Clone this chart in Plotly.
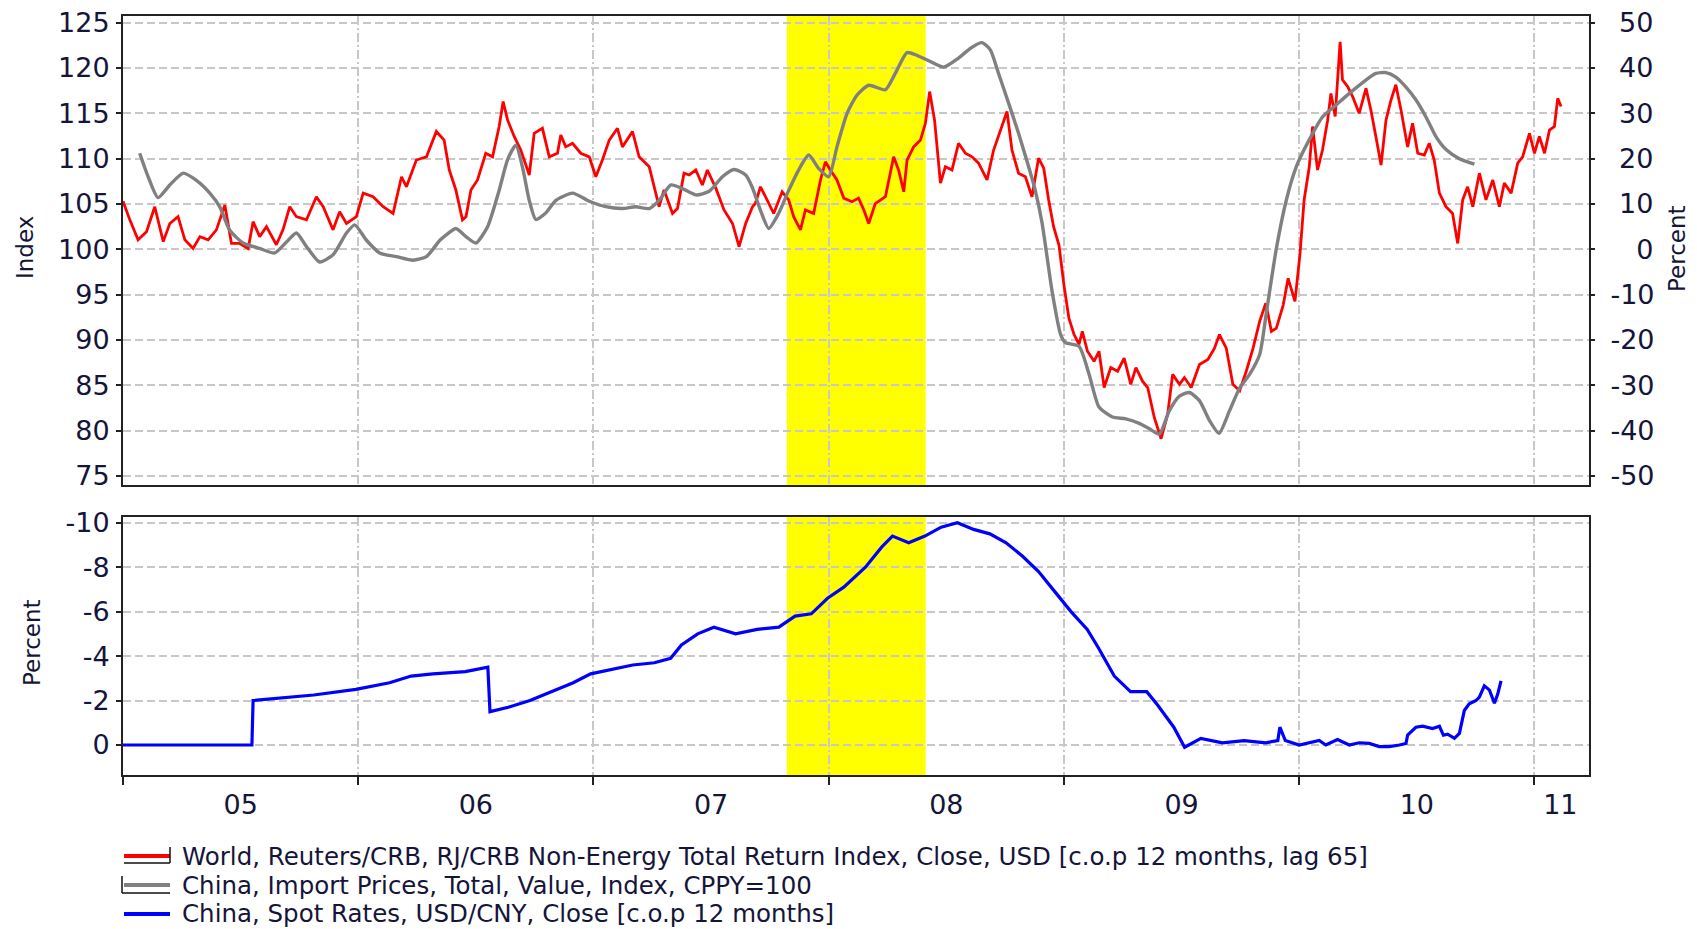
import plotly.graph_objects as go

# ---------------- data (decimal years) ----------------
red_t = [2005.000, 2005.029, 2005.064, 2005.100, 2005.135, 2005.171, 2005.199, 2005.234, 2005.263, 2005.298,
         2005.327, 2005.362, 2005.397, 2005.433, 2005.461, 2005.496, 2005.532, 2005.553, 2005.581, 2005.610,
         2005.652, 2005.680, 2005.709, 2005.737, 2005.780, 2005.822, 2005.851, 2005.893, 2005.921, 2005.950,
         2005.992, 2006.021, 2006.063, 2006.106, 2006.148, 2006.184, 2006.205, 2006.247, 2006.290, 2006.332,
         2006.365, 2006.387, 2006.415, 2006.443, 2006.458, 2006.479, 2006.507, 2006.542, 2006.571, 2006.599,
         2006.616, 2006.635, 2006.663, 2006.691, 2006.727, 2006.748, 2006.783, 2006.812, 2006.847, 2006.861,
         2006.882, 2006.911, 2006.946, 2006.982, 2007.010, 2007.038, 2007.067, 2007.102, 2007.123, 2007.166,
         2007.194, 2007.237, 2007.258, 2007.279, 2007.300, 2007.336, 2007.357, 2007.385, 2007.407, 2007.435,
         2007.463, 2007.484, 2007.520, 2007.555, 2007.591, 2007.619, 2007.647, 2007.676, 2007.688, 2007.710,
         2007.738, 2007.766, 2007.802, 2007.830, 2007.851, 2007.880, 2007.901, 2007.936, 2007.965, 2007.986,
         2008.007, 2008.035, 2008.064, 2008.099, 2008.127, 2008.149, 2008.170, 2008.198, 2008.241, 2008.276,
         2008.297, 2008.319, 2008.333, 2008.361, 2008.390, 2008.411, 2008.429, 2008.450, 2008.475, 2008.496,
         2008.524, 2008.552, 2008.581, 2008.609, 2008.637, 2008.673, 2008.701, 2008.729, 2008.758, 2008.779,
         2008.807, 2008.836, 2008.864, 2008.892, 2008.914, 2008.935, 2008.956, 2008.979, 2009.000, 2009.021,
         2009.043, 2009.064, 2009.078, 2009.100, 2009.128, 2009.149, 2009.171, 2009.199, 2009.228, 2009.256,
         2009.284, 2009.306, 2009.334, 2009.356, 2009.384, 2009.413, 2009.441, 2009.462, 2009.491, 2009.512,
         2009.541, 2009.576, 2009.612, 2009.640, 2009.661, 2009.690, 2009.718, 2009.747, 2009.775, 2009.804,
         2009.832, 2009.858, 2009.882, 2009.903, 2009.932, 2009.953, 2009.982, 2010.003, 2010.021, 2010.043,
         2010.057, 2010.078, 2010.099, 2010.121, 2010.135, 2010.153, 2010.174, 2010.184, 2010.206, 2010.227,
         2010.255, 2010.284, 2010.305, 2010.326, 2010.348, 2010.369, 2010.390, 2010.411, 2010.433, 2010.461,
         2010.482, 2010.504, 2010.532, 2010.553, 2010.574, 2010.596, 2010.624, 2010.652, 2010.674, 2010.695,
         2010.716, 2010.738, 2010.766, 2010.794, 2010.823, 2010.851, 2010.872, 2010.901, 2010.929, 2010.950,
         2010.979, 2011.000, 2011.021, 2011.043, 2011.064, 2011.085, 2011.099, 2011.113]
red_pct = [10.6, 6.5, 2.1, 3.9, 9.4, 1.7, 5.7, 7.2, 2.1, 0.2,
           2.8, 2.1, 4.3, 9.8, 1.3, 1.3, 0.2, 6.1, 2.8, 5.0,
           1.0, 4.3, 9.4, 7.2, 6.5, 11.6, 9.4, 4.3, 8.3, 5.7,
           7.2, 12.4, 11.6, 9.4, 7.9, 16.0, 13.8, 19.7, 20.4, 26.0,
           24.1, 17.5, 13.1, 6.5, 7.2, 13.1, 15.3, 21.2, 20.4, 27.1,
           32.6, 28.5, 24.9, 21.9, 16.4, 25.6, 26.7, 20.4, 21.2, 25.2,
           22.6, 23.4, 21.2, 20.4, 16.0, 19.7, 24.1, 26.7, 22.6, 26.0,
           20.4, 18.2, 13.8, 9.4, 13.1, 7.9, 9.0, 16.8, 16.4, 17.5,
           14.2, 17.5, 13.5, 8.7, 5.7, 0.6, 5.7, 9.4, 10.1, 13.8,
           10.9, 7.9, 12.7, 10.9, 7.2, 4.3, 8.7, 7.9, 15.3, 19.3,
           17.5, 15.3, 11.3, 10.5, 11.3, 8.7, 5.7, 10.1, 11.6, 20.4,
           17.5, 12.7, 19.7, 22.6, 24.1, 27.8, 34.8, 28.5, 14.6, 18.2,
           17.5, 23.4, 21.2, 20.4, 19.0, 15.3, 21.9, 26.3, 30.4, 21.9,
           16.8, 16.0, 11.6, 20.1, 17.9, 10.9, 5.0, 0.9, -7.9, -15.2,
           -18.8, -21.0, -18.1, -22.5, -24.7, -22.5, -30.5, -26.1, -26.9, -24.0,
           -29.8, -26.1, -29.1, -30.5, -37.1, -41.8, -36.4, -27.6, -29.8, -28.3,
           -30.5, -25.4, -24.3, -21.8, -18.8, -21.8, -29.8, -31.2, -26.9, -21.8,
           -15.9, -11.9, -18.1, -17.4, -12.3, -6.4, -11.5, -1.3, 10.9, 18.2,
           27.1, 17.5, 21.9, 28.5, 34.4, 29.3, 45.8, 37.4, 35.9, 33.7,
           30.0, 35.5, 30.7, 24.9, 18.6, 28.5, 32.9, 36.3, 30.7, 22.6,
           27.8, 21.2, 20.8, 23.4, 19.7, 12.4, 9.4, 7.9, 1.3, 10.9,
           13.8, 9.4, 16.8, 10.9, 15.3, 9.4, 14.6, 12.4, 19.0, 20.4,
           25.6, 21.2, 24.9, 21.2, 26.3, 27.1, 33.3, 31.5]

gray_t = [2005.071, 2005.107, 2005.149, 2005.199, 2005.256, 2005.312, 2005.369, 2005.411, 2005.454, 2005.510,
          2005.581, 2005.645, 2005.695, 2005.737, 2005.780, 2005.836, 2005.893, 2005.950, 2005.985, 2006.035,
          2006.091, 2006.162, 2006.233, 2006.290, 2006.347, 2006.365, 2006.415, 2006.458, 2006.500, 2006.550,
          2006.599, 2006.635, 2006.670, 2006.698, 2006.727, 2006.755, 2006.797, 2006.840, 2006.911, 2006.982,
          2007.052, 2007.123, 2007.180, 2007.237, 2007.279, 2007.329, 2007.378, 2007.435, 2007.492, 2007.548,
          2007.598, 2007.647, 2007.674, 2007.710, 2007.745, 2007.788, 2007.830, 2007.873, 2007.915, 2007.958,
          2008.000, 2008.035, 2008.078, 2008.120, 2008.170, 2008.241, 2008.283, 2008.333, 2008.375, 2008.425,
          2008.489, 2008.552, 2008.609, 2008.652, 2008.687, 2008.722, 2008.765, 2008.807, 2008.850, 2008.878,
          2008.907, 2008.950, 2008.986, 2009.007, 2009.064, 2009.107, 2009.149, 2009.206, 2009.263, 2009.320,
          2009.363, 2009.405, 2009.448, 2009.491, 2009.533, 2009.576, 2009.619, 2009.659, 2009.704, 2009.747,
          2009.789, 2009.832, 2009.861, 2009.903, 2009.946, 2009.989, 2010.043, 2010.099, 2010.156, 2010.213,
          2010.270, 2010.326, 2010.369, 2010.411, 2010.454, 2010.496, 2010.539, 2010.582, 2010.624, 2010.681,
          2010.745]
gray_idx = [110.6, 108.0, 105.7, 107.1, 108.4, 107.6, 106.2, 104.7, 102.1, 100.7,
            100.1, 99.6, 100.8, 101.8, 100.3, 98.6, 99.4, 101.8, 102.7, 101.0,
            99.6, 99.2, 98.8, 99.2, 101.0, 101.4, 102.3, 101.4, 100.7, 102.5,
            106.5, 109.9, 111.5, 109.1, 105.4, 103.3, 104.0, 105.4, 106.2, 105.3,
            104.7, 104.5, 104.7, 104.5, 105.4, 107.1, 106.7, 106.0, 106.4, 108.0,
            108.8, 108.2, 106.9, 104.3, 102.3, 104.0, 106.5, 108.8, 110.4, 108.9,
            108.0, 111.3, 115.0, 117.0, 118.1, 117.6, 119.4, 121.7, 121.4, 120.8,
            120.1, 121.1, 122.3, 122.8, 122.0, 119.4, 116.1, 112.8, 109.1, 106.5,
            102.9, 95.3, 90.6, 89.7, 89.3, 86.2, 82.6, 81.5, 81.3, 80.8,
            80.2, 79.6, 82.2, 83.8, 84.2, 83.3, 81.1, 79.7, 82.2, 84.7,
            86.2, 88.4, 93.1, 100.1, 105.5, 109.2, 112.1, 114.6, 115.9, 117.2,
            118.4, 119.4, 119.5, 119.0, 117.9, 116.5, 114.6, 112.4, 111.0, 110.0,
            109.4]

blue_t = [2005.000, 2005.548, 2005.553, 2005.673, 2005.811, 2005.990, 2006.133, 2006.225, 2006.317, 2006.455,
          2006.551, 2006.560, 2006.638, 2006.730, 2006.822, 2006.914, 2006.988, 2007.075, 2007.167, 2007.259,
          2007.328, 2007.374, 2007.443, 2007.512, 2007.604, 2007.696, 2007.788, 2007.857, 2007.926, 2007.995,
          2008.064, 2008.156, 2008.225, 2008.271, 2008.340, 2008.409, 2008.478, 2008.547, 2008.616, 2008.685,
          2008.754, 2008.823, 2008.892, 2008.961, 2009.030, 2009.099, 2009.145, 2009.214, 2009.283, 2009.352,
          2009.398, 2009.467, 2009.513, 2009.582, 2009.674, 2009.766, 2009.858, 2009.909, 2009.918, 2009.941,
          2010.000, 2010.085, 2010.113, 2010.163, 2010.213, 2010.255, 2010.298, 2010.340, 2010.383, 2010.426,
          2010.454, 2010.461, 2010.496, 2010.525, 2010.567, 2010.596, 2010.613, 2010.631, 2010.660, 2010.681,
          2010.702, 2010.723, 2010.752, 2010.766, 2010.787, 2010.809, 2010.830, 2010.844, 2010.858]
blue_pct = [0.0, 0.0, -2.0, -2.1, -2.25, -2.5, -2.8, -3.1, -3.2, -3.3,
            -3.5, -1.5, -1.7, -2.0, -2.4, -2.8, -3.2, -3.4, -3.6, -3.7,
            -3.9, -4.5, -5.0, -5.3, -5.0, -5.2, -5.3, -5.8, -5.9, -6.6,
            -7.1, -8.0, -8.9, -9.4, -9.1, -9.4, -9.8, -10.0, -9.7, -9.5,
            -9.1, -8.5, -7.8, -6.9, -6.0, -5.2, -4.4, -3.1, -2.4, -2.4,
            -1.8, -0.8, 0.1, -0.3, -0.1, -0.2, -0.1, -0.2, -0.8, -0.2,
            0.0, -0.2, 0.0, -0.25, 0.0, -0.1, -0.07, 0.07, 0.07, 0.0,
            -0.07, -0.45, -0.8, -0.85, -0.74, -0.84, -0.44, -0.49, -0.3, -0.52,
            -1.55, -1.85, -2.0, -2.15, -2.66, -2.47, -1.88, -2.29, -2.88]

band_start = 2007.822
band_end = 2008.412
year_bounds = [2005, 2006, 2007, 2008, 2009, 2010, 2011]
year_label_pos = [2005.5, 2006.5, 2007.5, 2008.5, 2009.5, 2010.5, 2011.11]
year_labels = ["05", "06", "07", "08", "09", "10", "11"]
index_ticks = [75, 80, 85, 90, 95, 100, 105, 110, 115, 120, 125]
pct_ticks = [-50, -40, -30, -20, -10, 0, 10, 20, 30, 40, 50]
spot_ticks = [0, -2, -4, -6, -8, -10]
legend_names = ["World, Reuters/CRB, RJ/CRB Non-Energy Total Return Index, Close, USD [c.o.p 12 months, lag 65]",
                "China, Import Prices, Total, Value, Index, CPPY=100",
                "China, Spot Rates, USD/CNY, Close [c.o.p 12 months]"]
legend_colors = ["#ff0000", "#808080", "#0000ff"]

# ---------------- styling ----------------
FONT = "DejaVu Sans"
TXT = "#15153a"
GRID = "#c8c8c8"
AXL = "#222222"
HDASH = "8px,4px"
VDASH = "9px,3px,2px,3px"
X_RANGE = [2005.0, 2011.232]
OFF = 8  # page body margin


def pad_right(label):
    # right-align labels of the right-hand axis
    w = {"-": 0.361}
    width = sum(w.get(c, 0.636) for c in label)
    target = 1.633
    pad = ""
    while target - width > 0.5:
        pad += "\u2007"
        width += 0.636
    if target - width > 0.15:
        pad += "\u2008"
    return pad + label


fig = go.Figure()

fig.add_trace(go.Scatter(x=red_t, y=red_pct, mode="lines", name=legend_names[0],
                         line=dict(color=legend_colors[0], width=2.8), xaxis="x", yaxis="y",
                         showlegend=False))
fig.add_trace(go.Scatter(x=gray_t, y=gray_idx, mode="lines", name=legend_names[1],
                         line=dict(color=legend_colors[1], width=3.4, shape="spline", smoothing=0.6),
                         xaxis="x", yaxis="y2", showlegend=False))
fig.add_trace(go.Scatter(x=blue_t, y=blue_pct, mode="lines", name=legend_names[2],
                         line=dict(color=legend_colors[2], width=3.2), xaxis="x2", yaxis="y3",
                         showlegend=False))

tickfont = dict(family=FONT, size=27, color=TXT)

fig.update_layout(
    width=1697 - OFF, height=929 - OFF,
    margin=dict(l=123 - OFF, r=108, t=16 - OFF, b=154, autoexpand=False),
    paper_bgcolor="white", plot_bgcolor="white",
    showlegend=False,
    xaxis=dict(domain=[0, 1], anchor="y", range=X_RANGE, tickmode="array", tickvals=year_bounds,
               showticklabels=False, ticks="", showgrid=True, gridcolor=GRID, gridwidth=1.5, griddash=VDASH,
               showline=True, linecolor=AXL, linewidth=2, mirror=True, zeroline=False),
    # right-hand percent axis (base of top panel)
    yaxis=dict(domain=[0.3821, 1.0], anchor="x", side="right", range=[-52.0, 51.48],
               tickmode="array", tickvals=pct_ticks, ticktext=[pad_right(str(v)) for v in pct_ticks],
               ticks="outside", ticklen=4, tickwidth=2, tickcolor=AXL, ticklabelstandoff=10,
               ticklabeloverflow="allow",
               tickfont=tickfont, showgrid=True, gridcolor=GRID, gridwidth=1.5, griddash=HDASH,
               showline=True, linecolor=AXL, linewidth=2, mirror=True, zeroline=False),
    # left-hand index axis
    yaxis2=dict(overlaying="y", anchor="x", side="left", range=[74.0, 125.74],
                tickmode="array", tickvals=index_ticks, ticktext=[str(v) for v in index_ticks],
                ticks="outside", ticklen=5, tickwidth=2, tickcolor=AXL, ticklabelstandoff=1,
                ticklabeloverflow="allow",
                tickfont=tickfont, showgrid=False, showline=True, linecolor=AXL, linewidth=2,
                zeroline=False),
    xaxis2=dict(domain=[0, 1], anchor="y3", range=X_RANGE, tickmode="array", tickvals=year_label_pos,
                ticktext=year_labels, ticks="", showgrid=False, tickfont=tickfont, ticklabelstandoff=5,
                ticklabeloverflow="allow",
                minor=dict(tickmode="array", tickvals=year_bounds, ticks="outside", ticklen=8, tickwidth=2,
                           tickcolor=AXL, showgrid=True, gridcolor=GRID, gridwidth=1.5, griddash=VDASH),
                showline=True, linecolor=AXL, linewidth=2, mirror=True, zeroline=False),
    yaxis3=dict(domain=[0, 0.3403], anchor="x2", range=[1.35, -10.27],
                tickmode="array", tickvals=spot_ticks, ticktext=[str(v) for v in spot_ticks],
                ticks="outside", ticklen=5, tickwidth=2, tickcolor=AXL, ticklabelstandoff=1,
                ticklabeloverflow="allow",
                tickfont=tickfont, showgrid=True, gridcolor=GRID, gridwidth=1.5, griddash=HDASH,
                showline=True, linecolor=AXL, linewidth=2, mirror=True, zeroline=False),
)

shapes = []
for xr, yr in (("x", "y domain"), ("x2", "y3 domain")):
    shapes.append(dict(type="rect", xref=xr, yref=yr, x0=band_start, x1=band_end, y0=0, y1=1,
                       fillcolor="#ffff00", line=dict(width=0), layer="below"))

# legend drawn manually (paper coords); page pixel -> paper
PW = 1466.0
PH = 759.0


def px_x(X):
    return (X - 123.0) / PW


def px_y(Y):
    return (775.0 - Y) / PH


rows_y = [856, 885, 914]
annotations = []
for name, col, Y in zip(legend_names, legend_colors, rows_y):
    shapes.append(dict(type="line", xref="paper", yref="paper", x0=px_x(124), x1=px_x(170),
                       y0=px_y(Y), y1=px_y(Y), line=dict(color=col, width=4)))
    annotations.append(dict(xref="paper", yref="paper", x=px_x(182), y=px_y(Y), xanchor="left",
                            yanchor="middle", text=name, showarrow=False, borderpad=0, borderwidth=0,
                            font=dict(family=FONT, size=24.5, color=TXT)))
# axis-side brackets next to the legend samples
br = dict(color="#111111", width=1.5)
Y0 = rows_y[0]
shapes.append(dict(type="line", xref="paper", yref="paper", x0=px_x(124), x1=px_x(170),
                   y0=px_y(Y0 + 7), y1=px_y(Y0 + 7), line=br))
shapes.append(dict(type="line", xref="paper", yref="paper", x0=px_x(170), x1=px_x(170),
                   y0=px_y(Y0 - 9), y1=px_y(Y0 + 7), line=br))
Y1 = rows_y[1]
shapes.append(dict(type="line", xref="paper", yref="paper", x0=px_x(122), x1=px_x(122),
                   y0=px_y(Y1 - 9), y1=px_y(Y1 + 8), line=br))
shapes.append(dict(type="line", xref="paper", yref="paper", x0=px_x(122), x1=px_x(170),
                   y0=px_y(Y1 + 8), y1=px_y(Y1 + 8), line=br))

# axis titles
annotations.append(dict(xref="paper", yref="paper", x=px_x(25), y=px_y(247), text="Index", textangle=-90,
                        showarrow=False, xanchor="center", yanchor="middle",
                        font=dict(family=FONT, size=23, color=TXT)))
annotations.append(dict(xref="paper", yref="paper", x=px_x(1677), y=px_y(249), text="Percent", textangle=-90,
                        showarrow=False, xanchor="center", yanchor="middle",
                        font=dict(family=FONT, size=23, color=TXT)))
annotations.append(dict(xref="paper", yref="paper", x=px_x(32), y=px_y(643), text="Percent", textangle=-90,
                        showarrow=False, xanchor="center", yanchor="middle",
                        font=dict(family=FONT, size=23, color=TXT)))

fig.update_layout(shapes=shapes, annotations=annotations)

fig.write_html("out.html")
